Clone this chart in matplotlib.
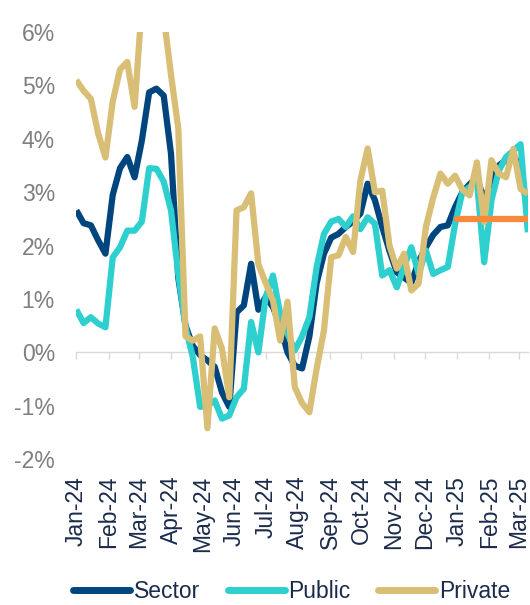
import matplotlib
matplotlib.use("Agg")
import matplotlib.pyplot as plt
import matplotlib.dates as mdates
import numpy as np
import pandas as pd

plt.rcParams['font.family'] = ['Liberation Sans', 'DejaVu Sans']

# weekly observations
dates = pd.date_range("2024-01-01", periods=63, freq="7D")

sector = [2.66, 2.42, 2.38, 2.10, 1.85, 2.95, 3.45, 3.66, 3.28, 3.97,
          4.87, 4.94, 4.81, 3.72, 1.40, 0.50, 0.12, -0.05, -0.15, -0.27,
          -0.75, -1.02, 0.75, 0.88, 1.66, 0.80, 1.04, 0.85, 0.50, 0.00,
          -0.25, -0.30, 0.30, 1.30, 1.85, 2.15, 2.22, 2.35, 2.45, 2.60,
          3.16, 2.85, 2.35, 1.90, 1.50, 1.40, 1.30, 1.70, 1.97, 2.20,
          2.35, 2.38, 2.72, 3.00, 3.15, 3.28, 2.85, 3.22, 3.50, 3.60,
          3.69, 3.47, 2.60]

public = [0.80, 0.55, 0.66, 0.54, 0.47, 1.78, 1.97, 2.28, 2.28, 2.45,
          3.45, 3.44, 3.20, 2.66, 1.47, 0.47, -0.09, -1.02, -1.00, -0.90,
          -1.24, -1.18, -0.84, -0.68, 0.57, 0.00, 1.04, 1.44, 0.72, 0.35,
          0.04, 0.30, 0.66, 1.60, 2.22, 2.45, 2.50, 2.35, 2.55, 2.31,
          2.53, 2.41, 1.44, 1.54, 1.22, 1.60, 1.97, 1.47, 1.91, 1.47,
          1.54, 1.60, 2.40, 3.00, 3.10, 3.22, 1.69, 2.85, 3.40, 3.66,
          3.78, 3.90, 2.25]

private = [5.10, 4.90, 4.75, 4.10, 3.65, 4.70, 5.30, 5.44, 4.60, 6.50,
           7.00, 7.00, 6.30, 5.20, 4.20, 0.30, 0.22, 0.30, -1.42, 0.45,
           0.07, -0.84, 2.66, 2.72, 2.98, 1.65, 1.30, 0.97, 0.22, 0.95,
           -0.65, -0.95, -1.12, -0.30, 0.41, 1.78, 1.82, 2.16, 1.88, 3.22,
           3.82, 3.00, 3.03, 2.00, 1.57, 1.85, 1.16, 1.29, 2.35, 2.90,
           3.35, 3.16, 3.31, 3.05, 2.94, 3.56, 2.44, 3.60, 3.35, 3.28,
           3.81, 3.06, 2.97]

target_dates = [pd.Timestamp("2025-01-01"), pd.Timestamp("2025-03-10")]
target_values = [2.5, 2.5]

month_ticks = pd.date_range("2024-01-01", "2025-03-01", freq="MS")
month_labels = [d.strftime("%b-%y") for d in month_ticks]

series_names = ["Sector", "Public", "Private"]
series_colors = ["#00457E", "#2ECFCF", "#D9BE76"]

fig = plt.figure(figsize=(5.30, 6.05), dpi=100)
ax = fig.add_axes([0.143, 0.241, 0.853, 0.706])

lw = 4.5
for vals, name, col in zip([sector, public, private], series_names, series_colors):
    ax.plot(dates, vals, color=col, lw=lw, label=name,
            solid_joinstyle='round', solid_capstyle='butt')
ax.plot(target_dates, target_values, color="#F68A3A", lw=lw,
        solid_capstyle='round', zorder=5)

ax.set_ylim(-2, 6)
ax.set_xlim(pd.Timestamp("2024-01-01") - pd.Timedelta(days=0.5), pd.Timestamp("2025-03-10"))
ax.set_yticks(np.arange(-2, 7, 1))
ax.set_yticklabels([f"{v}%" for v in range(-2, 7)])
ax.tick_params(axis='y', length=0, labelsize=16.5, labelcolor="#7F7F7F", pad=15)

for s in ['top', 'right', 'left']:
    ax.spines[s].set_visible(False)
ax.spines['bottom'].set_position(('data', 0))
ax.spines['bottom'].set_color("#D9D9D9")
ax.spines['bottom'].set_linewidth(1.0)
ax.spines['bottom'].set_zorder(0)
ax.set_xticks(month_ticks)
ax.tick_params(axis='x', direction='out', length=5, width=1.0, color="#D9D9D9",
               labelbottom=False)

sec = ax.secondary_xaxis('bottom')
sec.set_xticks(month_ticks)
sec.set_xticklabels(month_labels, rotation=90)
sec.tick_params(length=0, labelsize=16.5, labelcolor="#1B2B4B", pad=12)
sec.spines['bottom'].set_visible(False)

fig.legend(loc='center', bbox_to_anchor=(0.55, 0.022), ncol=3, frameon=False,
           fontsize=16.5, labelcolor="#1B2B4B", handlelength=2.5,
           handletextpad=0.15, columnspacing=1.2)
for line in fig.legends[0].get_lines():
    line.set_solid_capstyle('round')
    line.set_linewidth(5)

fig.savefig("out.png", dpi=100)
